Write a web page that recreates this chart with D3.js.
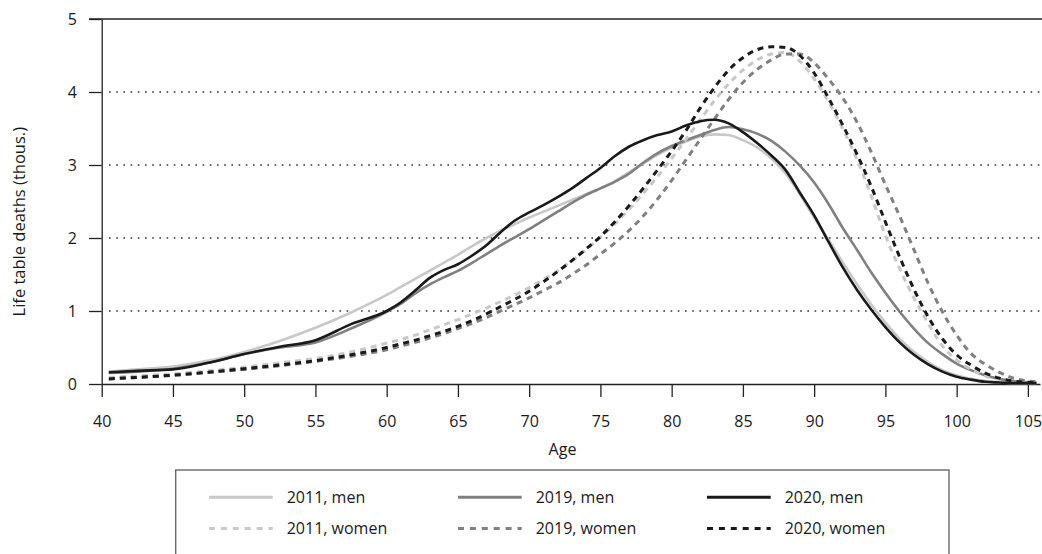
<!DOCTYPE html>
<html>
<head>
  <meta charset="utf-8">
  <script src="https://cdn.jsdelivr.net/npm/d3@7"></script>
  <style>
    body { margin: 0; background: #fff; }
    svg text { font-family: "Open Sans", sans-serif; font-size: 16px; fill: #1a1a1a; }
    .grid line { stroke: #333; stroke-width: 1.6; stroke-dasharray: 1.6 5.6; }
    .axis path, .axis line { stroke: #222; stroke-width: 1.3; }
  </style>
</head>
<body>
<script>
  // life table deaths (thousands) by age
  var ages = [40.5, 42.5, 45, 47.5, 50, 52.5, 55, 57.5, 60, 61, 62, 63, 64, 65, 66, 67, 68, 69, 70,
    71, 72, 73, 74, 75, 76, 77, 78, 79, 80, 81, 82, 83, 84, 85, 86, 87, 88, 89, 90,
    91, 92, 93, 94, 95, 96, 97, 98, 99, 100, 101, 102, 103, 104, 105.6];

  var men2011 = [0.17, 0.20, 0.24, 0.32, 0.44, 0.59, 0.77, 0.98, 1.22, 1.33, 1.44, 1.55, 1.66, 1.77, 1.89, 2.00, 2.10, 2.19, 2.28,
    2.36, 2.44, 2.52, 2.60, 2.68, 2.78, 2.90, 3.02, 3.14, 3.24, 3.32, 3.39, 3.42, 3.41, 3.34, 3.24, 3.09, 2.88, 2.60, 2.28,
    1.98, 1.67, 1.37, 1.09, 0.84, 0.62, 0.44, 0.30, 0.19, 0.12, 0.07, 0.04, 0.02, 0.01, 0.01];
  var men2019 = [0.15, 0.17, 0.21, 0.29, 0.41, 0.50, 0.57, 0.76, 0.99, 1.10, 1.24, 1.36, 1.46, 1.55, 1.66, 1.78, 1.90, 2.01, 2.12,
    2.24, 2.36, 2.48, 2.59, 2.68, 2.77, 2.88, 3.03, 3.16, 3.26, 3.34, 3.41, 3.48, 3.52, 3.49, 3.43, 3.33, 3.18, 2.99, 2.76,
    2.47, 2.14, 1.84, 1.53, 1.25, 0.99, 0.76, 0.56, 0.41, 0.28, 0.19, 0.12, 0.07, 0.04, 0.02];
  var men2020 = [0.16, 0.18, 0.20, 0.29, 0.41, 0.51, 0.60, 0.82, 1.00, 1.12, 1.28, 1.45, 1.56, 1.64, 1.76, 1.90, 2.08, 2.24, 2.35,
    2.45, 2.56, 2.68, 2.82, 2.96, 3.12, 3.25, 3.34, 3.41, 3.46, 3.54, 3.60, 3.62, 3.57, 3.45, 3.30, 3.13, 2.93, 2.62, 2.31,
    1.95, 1.60, 1.29, 1.02, 0.78, 0.57, 0.40, 0.27, 0.17, 0.10, 0.06, 0.03, 0.02, 0.01, 0.01];
  var women2011 = [0.09, 0.11, 0.14, 0.18, 0.23, 0.29, 0.35, 0.44, 0.56, 0.61, 0.67, 0.74, 0.81, 0.88, 0.96, 1.04, 1.13, 1.22, 1.32,
    1.43, 1.55, 1.69, 1.84, 2.01, 2.19, 2.39, 2.61, 2.84, 3.09, 3.35, 3.62, 3.88, 4.11, 4.30, 4.44, 4.52, 4.54, 4.42, 4.18,
    3.87, 3.50, 3.08, 2.58, 2.03, 1.58, 1.18, 0.83, 0.52, 0.33, 0.20, 0.11, 0.06, 0.03, 0.02];
  var women2019 = [0.07, 0.09, 0.12, 0.16, 0.20, 0.25, 0.31, 0.38, 0.47, 0.52, 0.57, 0.63, 0.69, 0.76, 0.83, 0.91, 1.00, 1.09, 1.18,
    1.28, 1.38, 1.50, 1.63, 1.78, 1.93, 2.10, 2.30, 2.53, 2.79, 3.07, 3.35, 3.63, 3.90, 4.13, 4.31, 4.44, 4.52, 4.52, 4.40,
    4.18, 3.92, 3.59, 3.18, 2.73, 2.30, 1.84, 1.38, 0.99, 0.67, 0.42, 0.27, 0.16, 0.08, 0.03];
  var women2020 = [0.07, 0.09, 0.12, 0.16, 0.21, 0.26, 0.32, 0.40, 0.50, 0.55, 0.60, 0.66, 0.72, 0.79, 0.87, 0.96, 1.06, 1.16, 1.27,
    1.40, 1.54, 1.69, 1.85, 2.02, 2.22, 2.44, 2.68, 2.93, 3.19, 3.47, 3.78, 4.06, 4.30, 4.47, 4.58, 4.62, 4.61, 4.50, 4.26,
    3.92, 3.55, 3.15, 2.71, 2.22, 1.74, 1.30, 0.92, 0.62, 0.40, 0.26, 0.15, 0.08, 0.04, 0.02];

  var seriesLabels = ["2011, men", "2019, men", "2020, men", "2011, women", "2019, women", "2020, women"];
  var seriesValues = [men2011, men2019, men2020, women2011, women2019, women2020];
  var xTicks = [40, 45, 50, 55, 60, 65, 70, 75, 80, 85, 90, 95, 100, 105];
  var yTicks = [0, 1, 2, 3, 4, 5];

  // styles per series (same order as the labels)
  var colors = ["#c8c8c8", "#808080", "#1a1a1a", "#c8c8c8", "#808080", "#1a1a1a"];
  var dashed = [false, false, false, true, true, true];

  var W = 1042, H = 554;
  var svg = d3.select("body").append("svg").attr("width", W).attr("height", H);

  var x = d3.scaleLinear().domain([40, 105.85]).range([101.7, 1040]);
  var y = d3.scaleLinear().domain([0, 5]).range([384, 19]);

  // dotted gridlines
  svg.append("g").attr("class", "grid")
    .selectAll("line").data(yTicks.filter(function(d) { return d > 0 && d < 5; }))
    .enter().append("line")
    .attr("x1", 109).attr("x2", W)
    .attr("y1", function(d) { return y(d); }).attr("y2", function(d) { return y(d); });

  // solid line at the top value
  svg.append("line")
    .attr("x1", 89).attr("x2", W)
    .attr("y1", y(5)).attr("y2", y(5))
    .attr("stroke", "#222").attr("stroke-width", 1.3);

  svg.append("g").attr("class", "axis")
    .attr("transform", "translate(" + x(40) + ",0)")
    .call(d3.axisLeft(y).tickValues(yTicks).tickFormat(d3.format("d"))
      .tickSizeInner(12.7).tickSizeOuter(0).tickPadding(12));
  svg.append("g").attr("class", "axis")
    .attr("transform", "translate(0," + y(0) + ")")
    .call(d3.axisBottom(x).tickValues(xTicks).tickFormat(d3.format("d"))
      .tickSizeInner(13).tickSizeOuter(0).tickPadding(19));
  svg.selectAll(".axis text").attr("font-size", null).attr("font-family", null);

  svg.append("text").attr("x", 562.5).attr("y", 454.5).attr("text-anchor", "middle").text("Age");
  svg.append("text")
    .attr("transform", "translate(25," + 221.7 + ") rotate(-90)")
    .attr("text-anchor", "middle").style("font-size", "16.5px")
    .text("Life table deaths (thous.)");

  // curves
  var line = d3.line()
    .x(function(d) { return x(d[0]); })
    .y(function(d) { return y(d[1]); })
    .curve(d3.curveMonotoneX);

  var drawOrder = [0, 1, 3, 4, 5, 2];
  drawOrder.forEach(function(i) {
    var pts = ages.map(function(a, k) { return [a, seriesValues[i][k]]; });
    svg.append("path")
      .attr("d", line(pts))
      .attr("fill", "none")
      .attr("stroke", colors[i])
      .attr("stroke-width", dashed[i] ? 3 : 2.6)
      .attr("stroke-dasharray", dashed[i] ? "6,5" : null);
  });

  // legend
  var legend = svg.append("g");
  legend.append("rect")
    .attr("x", 175.7).attr("y", 470).attr("width", 773.3).attr("height", 120)
    .attr("fill", "none").attr("stroke", "#6a6a6a").attr("stroke-width", 1.4);

  var colX = [209, 458, 707];
  var rowY = [497.3, 528.5];
  seriesLabels.forEach(function(lab, i) {
    var cx = colX[i % 3], cy = rowY[Math.floor(i / 3)];
    legend.append("line")
      .attr("x1", cx).attr("x2", cx + 63.7)
      .attr("y1", cy).attr("y2", cy)
      .attr("stroke", colors[i]).attr("stroke-width", 3)
      .attr("stroke-dasharray", dashed[i] ? "6,5.9" : null);
    legend.append("text")
      .attr("x", cx + 77.7).attr("y", cy)
      .attr("dy", "0.36em")
      .text(lab);
  });
</script>
</body>
</html>
